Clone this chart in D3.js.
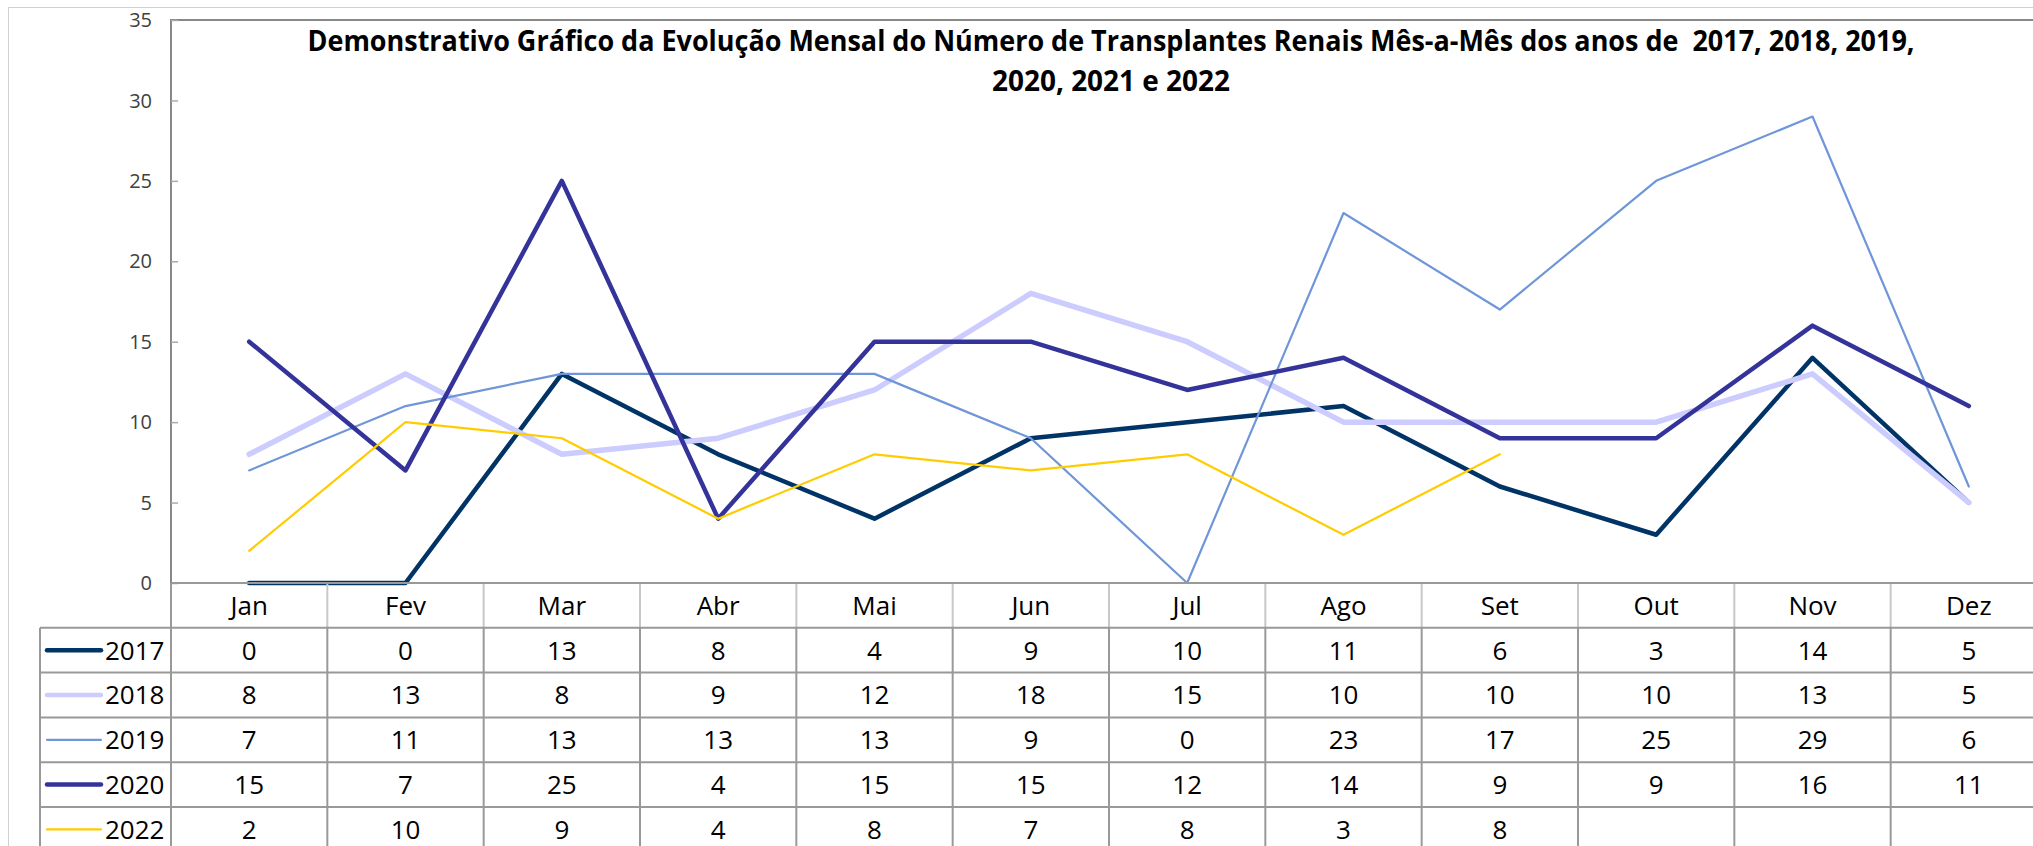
<!DOCTYPE html>
<html>
<head>
<meta charset="utf-8">
<script src="https://cdnjs.cloudflare.com/ajax/libs/d3/7.8.5/d3.min.js"></script>
<style>
  body { margin: 0; background: #fff; }
  text { font-family: "Open Sans", "Liberation Sans", sans-serif; }
  .title { white-space: pre; }
</style>
</head>
<body>
<div id="chart"></div>
<script>
// data
var months = ["Jan", "Fev", "Mar", "Abr", "Mai", "Jun", "Jul", "Ago", "Set", "Out", "Nov", "Dez"];
var years = ["2017", "2018", "2019", "2020", "2022"];
var v2017 = [0, 0, 13, 8, 4, 9, 10, 11, 6, 3, 14, 5];
var v2018 = [8, 13, 8, 9, 12, 18, 15, 10, 10, 10, 13, 5];
var v2019 = [7, 11, 13, 13, 13, 9, 0, 23, 17, 25, 29, 6];
var v2020 = [15, 7, 25, 4, 15, 15, 12, 14, 9, 9, 16, 11];
var v2022 = [2, 10, 9, 4, 8, 7, 8, 3, 8, null, null, null];
var yTicks = [0, 5, 10, 15, 20, 25, 30, 35];
var titleLines = [
  "Demonstrativo Gráfico da Evolução Mensal do Número de Transplantes Renais Mês-a-Mês dos anos de  2017, 2018, 2019,",
  "2020, 2021 e 2022"
];

var series = [v2017, v2018, v2019, v2020, v2022].map(function(v, i) {
  return { year: years[i], values: v };
});

// styles
var colors = { "2017": "#003366", "2018": "#ccccff", "2019": "#6f96d8", "2020": "#333399", "2022": "#ffcc00" };
var widths = { "2017": 4.5, "2018": 5.5, "2019": 2.2, "2020": 4.5, "2022": 2.2 };

var w = 2033, h = 846;
var plotL = 171, plotR = 2047, plotT = 20, plotB = 583;
var rowH = 44.8, legendL = 40;
var fs = 26;

var svg = d3.select("#chart").append("svg")
  .attr("width", w).attr("height", h);

// outer chart border
svg.append("rect")
  .attr("x", 8.5).attr("y", 7.5)
  .attr("width", w + 20).attr("height", h + 20)
  .attr("fill", "none").attr("stroke", "#d0d0d0").attr("stroke-width", 1);

var x = d3.scaleBand().domain(months).range([plotL, plotR]);
var y = d3.scaleLinear().domain([0, 35]).range([plotB, plotT]);

// plot area border (left + top)
svg.append("path")
  .attr("d", "M" + plotL + "," + plotB + "V" + plotT + "H" + (plotR + 5))
  .attr("fill", "none").attr("stroke", "#888").attr("stroke-width", 2);

// y axis
var yAxis = svg.append("g")
  .attr("transform", "translate(" + plotL + ",0)")
  .call(d3.axisRight(y).tickValues(yTicks).tickSize(7).tickFormat(""));
yAxis.select(".domain").remove();
yAxis.selectAll(".tick line").attr("stroke", "#aaa").attr("stroke-width", 1.5);

svg.append("g").selectAll("text")
  .data(yTicks).enter().append("text")
  .attr("x", 152)
  .attr("y", function(d) { return y(d); })
  .attr("dy", "0.36em")
  .attr("text-anchor", "end")
  .attr("font-size", 20)
  .attr("fill", "#404040")
  .text(function(d) { return d; });

// title
var titleW = [1607, 238], titleY = [51, 91];
svg.append("g").selectAll("text")
  .data(titleLines).enter().append("text")
  .attr("class", "title")
  .attr("x", 1111).attr("y", function(d, i) { return titleY[i]; })
  .attr("text-anchor", "middle")
  .attr("font-size", 29).attr("font-weight", "bold")
  .attr("textLength", function(d, i) { return titleW[i]; })
  .attr("lengthAdjust", "spacingAndGlyphs")
  .text(function(d) { return d; });

// lines
var line = d3.line()
  .defined(function(d) { return d != null; })
  .x(function(d, i) { return x(months[i]) + x.bandwidth() / 2; })
  .y(function(d) { return y(d); });

svg.append("g").selectAll("path")
  .data(series).enter().append("path")
  .attr("d", function(d) { return line(d.values); })
  .attr("fill", "none")
  .attr("stroke", function(d) { return colors[d.year]; })
  .attr("stroke-width", function(d) { return widths[d.year]; })
  .attr("stroke-linejoin", "round")
  .attr("stroke-linecap", "round");

// data table
var table = svg.append("g");
var tableTop = plotB + rowH;
var nRows = years.length;

// header month labels
table.selectAll(".mlab")
  .data(months).enter().append("text")
  .attr("x", function(d) { return x(d) + x.bandwidth() / 2; })
  .attr("y", plotB + rowH / 2)
  .attr("dy", "0.36em")
  .attr("text-anchor", "middle")
  .attr("font-size", fs)
  .text(function(d) { return d; });

// header dividers (lighter)
table.selectAll(".hdiv")
  .data(months.slice(1)).enter().append("line")
  .attr("x1", function(d) { return x(d); }).attr("x2", function(d) { return x(d); })
  .attr("y1", plotB).attr("y2", tableTop)
  .attr("stroke", "#c8c8c8").attr("stroke-width", 2);

// body grid
d3.range(nRows + 1).forEach(function(r) {
  table.append("line")
    .attr("x1", legendL).attr("x2", plotR + 5)
    .attr("y1", tableTop + r * rowH).attr("y2", tableTop + r * rowH)
    .attr("stroke", "#999").attr("stroke-width", 2);
});
table.append("line")
  .attr("x1", plotL).attr("x2", plotR + 5)
  .attr("y1", plotB).attr("y2", plotB)
  .attr("stroke", "#999").attr("stroke-width", 2);
[legendL].concat(months.map(function(m) { return x(m); })).concat([plotR]).forEach(function(xx, i) {
  table.append("line")
    .attr("x1", xx).attr("x2", xx)
    .attr("y1", i === 1 ? plotB : tableTop).attr("y2", tableTop + nRows * rowH)
    .attr("stroke", "#999").attr("stroke-width", 2);
});

// rows
series.forEach(function(s, r) {
  var cy = tableTop + r * rowH + rowH / 2;
  table.append("line")
    .attr("x1", 47).attr("x2", 101)
    .attr("y1", cy).attr("y2", cy)
    .attr("stroke", colors[s.year])
    .attr("stroke-width", Math.min(widths[s.year], 4.5))
    .attr("stroke-linecap", "round");
  table.append("text")
    .attr("x", 105).attr("y", cy).attr("dy", "0.36em")
    .attr("font-size", fs)
    .text(s.year);
  table.selectAll(".v" + s.year)
    .data(s.values).enter().append("text")
    .attr("x", function(d, i) { return x(months[i]) + x.bandwidth() / 2; })
    .attr("y", cy).attr("dy", "0.36em")
    .attr("text-anchor", "middle")
    .attr("font-size", fs)
    .text(function(d) { return d == null ? "" : d; });
});
</script>
</body>
</html>
